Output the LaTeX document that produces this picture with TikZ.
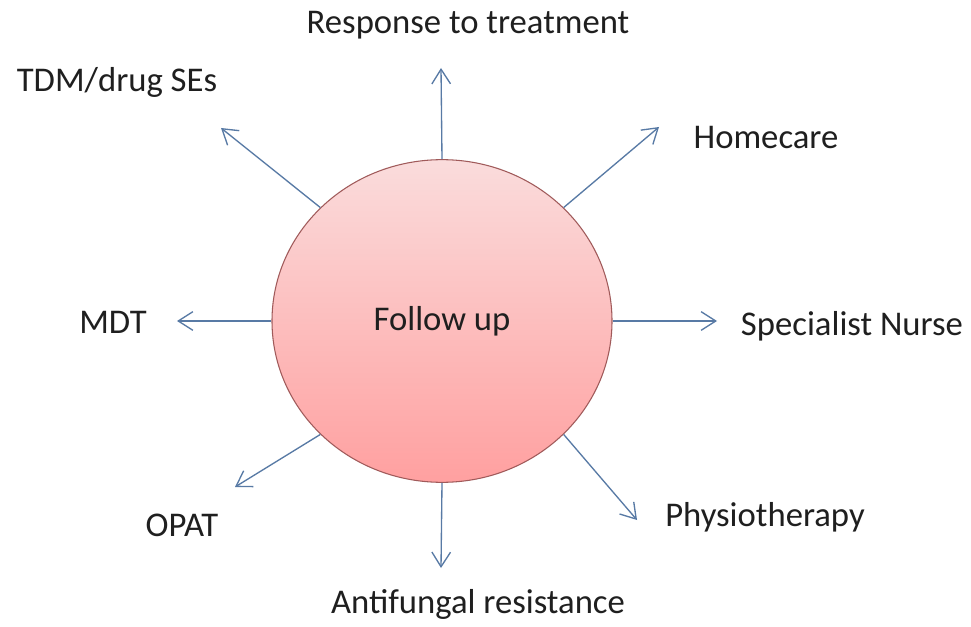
\documentclass[tikz,border=0pt]{standalone}
\usepackage{fontspec}
\setmainfont{Carlito}
\usetikzlibrary{arrows.meta,shapes.geometric}
\definecolor{arrowblue}{RGB}{88,122,165}
\definecolor{pinktop}{RGB}{250,220,220}
\definecolor{pinkbot}{RGB}{255,160,160}
\definecolor{rimred}{RGB}{160,90,90}
\begin{document}
\begin{tikzpicture}[x=0.75pt,y=-0.75pt,
  lbl/.style={font=\fontsize{26}{30}\selectfont, text=black!88, inner sep=0pt},
  conn/.style={draw=arrowblue, line width=1pt, -{Straight Barb[length=11pt,width=14pt,line width=1pt]}},
  hub/.style={ellipse, draw=rimred, line width=0.8pt, top color=pinktop, bottom color=pinkbot, minimum width=255pt, minimum height=242pt, inner sep=0pt, font=\fontsize{26}{30}\selectfont, text=black!88}]
\useasboundingbox (0,0) rectangle (971,627);
\fill[white] (0,0) rectangle (971,627);
\node[hub] (hub) at (442,321) {Follow up};
% free ends
\coordinate (eResp) at (441,68);
\coordinate (eHome) at (659,127);
\coordinate (eNurse) at (717,321);
\coordinate (ePhys) at (637,520);
\coordinate (eAnti) at (441,568);
\coordinate (eOpat) at (235,487);
\coordinate (eMdt) at (177,321);
\coordinate (eTdm) at (221,128);
% labels
\node[lbl] (resp) at (468,25) {Response to treatment};
\node[lbl] (tdm) at (117,82) {TDM/drug SEs};
\node[lbl] (home) at (766,138) {Homecare};
\node[lbl] (mdt) at (113,322) {MDT};
\node[lbl] (nurse) at (852,326) {Specialist Nurse};
\node[lbl] (opat) at (182,525) {OPAT};
\node[lbl] (phys) at (765,517) {Physiotherapy};
\node[lbl] (anti) at (478,604) {Antifungal resistance};
% connectors
\draw[conn] (hub.90) -- (eResp);
\draw[conn] (hub.43) -- (eHome);
\draw[conn] (hub.0) -- (eNurse);
\draw[conn] (hub.-43) -- (ePhys);
\draw[conn] (hub.-90) -- (eAnti);
\draw[conn] (hub.223.6) -- (eOpat);
\draw[conn] (hub.180) -- (eMdt);
\draw[conn] (hub.137) -- (eTdm);
\end{tikzpicture}
\end{document}
